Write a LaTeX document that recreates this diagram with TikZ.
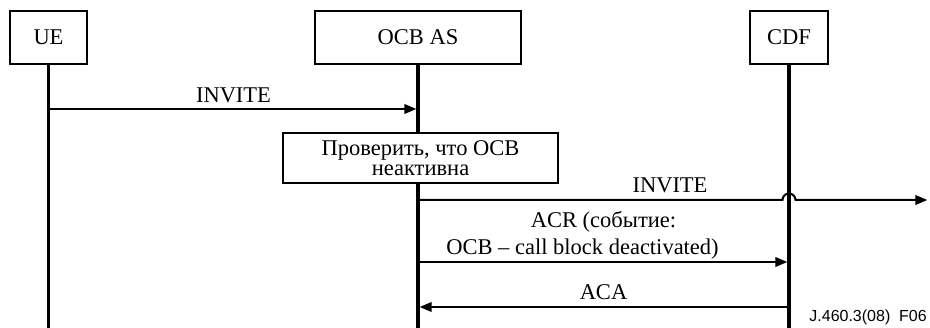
\documentclass[tikz,border=0pt]{standalone}
\usepackage{fontspec}
\setmainfont{Liberation Serif}
\newfontfamily\figsans{Liberation Sans}
\usetikzlibrary{arrows.meta}
\begin{document}
\begin{tikzpicture}[x=1pt,y=-1pt,
  every node/.style={font=\fontsize{22.5}{27}\selectfont, inner sep=0pt},
  entity/.style={draw, line width=2.4pt, minimum height=53pt},
  life/.style={line width=3.5pt},
  msg/.style={line width=2pt, shorten >=1.6pt, -{Triangle[length=12pt,width=9.5pt]}},
  lbl/.style={anchor=base},
  actbox/.style={draw, fill=white, line width=2.4pt, align=center, font=\fontsize{22.5}{20}\selectfont},
]
\useasboundingbox (0,0) rectangle (930,328);

% participants
\node[entity, minimum width=77pt] (ue) at (48.5,37.5) {UE};
\node[entity, minimum width=206pt] (ocb) at (418,37.5) {OCB AS};
\node[entity, minimum width=78pt] (cdf) at (789,37.5) {CDF};

% lifelines
\coordinate (bot) at (0,330);
\draw[life] (ue.south) -- (ue |- bot);
\draw[life] (ocb.south) -- (ocb |- bot);
\draw[life] (cdf.south) -- (cdf |- bot);

% message rows
\coordinate (y1) at (0,109);
\coordinate (y2) at (0,200);
\coordinate (y3) at (0,262);
\coordinate (y4) at (0,307);
\coordinate (out) at (929,200);

% INVITE from UE
\draw[msg] (ue |- y1) -- (ocb |- y1);
\node[lbl] (l1) at (233.5,103) {INVITE};

% local check
\node[actbox, minimum width=275pt, minimum height=50pt] (chk) at (420.5,158) {Проверить, что OCB\\неактивна};

% INVITE onwards, hopping over the CDF lifeline
\draw[msg] (ocb |- y2) -- ([xshift=-6.5pt]cdf |- y2)
  arc[start angle=180, end angle=0, radius=6.5pt] -- (out);
\node[lbl] (l2) at (670,193) {INVITE};

% accounting request / answer (base anchor of a multi-line node sits on its last line)
\draw[msg] (ocb |- y3) -- (cdf |- y3);
\node[lbl, align=center] (l3) at (603.5,255) {ACR (событие:\\OCB – call block deactivated)\hspace*{42pt}};
\draw[msg] (cdf |- y4) -- (ocb |- y4);
\node[lbl] (l4) at (603.5,300) {ACA};

\node[anchor=base east, font=\figsans\fontsize{16}{19}\selectfont] (fig) at (927,322) {J.460.3(08)\ \ F06};
\end{tikzpicture}
\end{document}
